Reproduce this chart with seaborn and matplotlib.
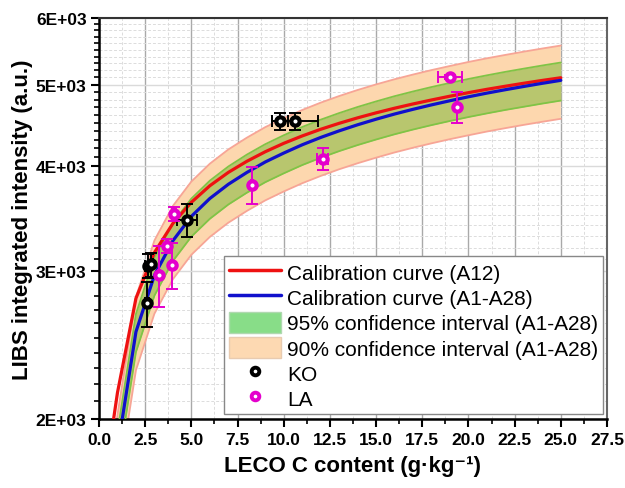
import numpy as np
import pandas as pd
import matplotlib
matplotlib.use("Agg")
import matplotlib.pyplot as plt
import seaborn as sns
from matplotlib.ticker import FixedLocator, FuncFormatter, MultipleLocator, NullFormatter
from matplotlib.lines import Line2D
from matplotlib.patches import Patch

# ---------------- data ----------------
curve_x = [0.5, 1, 2, 3, 4, 5, 6, 7, 8, 9, 10, 11, 12, 13, 14, 15, 16, 17, 18, 19, 20,
           21, 22, 23, 24, 25]
cal_a12 = [1810, 2150, 2784, 3156, 3418, 3622, 3790, 3931, 4052, 4160, 4257, 4344, 4424,
           4497, 4565, 4628, 4687, 4742, 4794, 4844, 4891, 4936, 4978, 5019, 5058, 5095]
cal_a1_a28 = [1500, 1840, 2540, 2965, 3260, 3485, 3660, 3805, 3930, 4045, 4145, 4240, 4326,
              4405, 4479, 4548, 4613, 4673, 4730, 4784, 4836, 4885, 4931, 4975, 5018, 5059]
ci95_hi = [1575, 1932, 2667, 3113, 3423, 3659, 3843, 3995, 4127, 4247, 4352, 4452, 4542,
           4625, 4703, 4775, 4844, 4907, 4967, 5023, 5078, 5129, 5178, 5224, 5269, 5312]
ci95_lo = [1419, 1741, 2403, 2805, 3084, 3297, 3462, 3600, 3718, 3827, 3921, 4011, 4092,
           4167, 4237, 4302, 4364, 4421, 4475, 4526, 4575, 4621, 4665, 4706, 4747, 4786]
ci90_hi = [1650, 2024, 2794, 3262, 3586, 3834, 4026, 4186, 4323, 4450, 4560, 4664, 4759,
           4846, 4927, 5003, 5074, 5140, 5203, 5262, 5320, 5374, 5424, 5473, 5520, 5565]
ci90_lo = [1350, 1656, 2286, 2669, 2934, 3137, 3294, 3425, 3537, 3641, 3731, 3816, 3893,
           3965, 4031, 4093, 4152, 4206, 4257, 4306, 4352, 4397, 4438, 4478, 4516, 4553]

ko_x = [2.6, 2.65, 2.8, 4.75, 9.8, 10.6]
ko_y = [2745, 3040, 3055, 3450, 4520, 4520]
ko_yerr = [170, 100, 100, 155, 100, 100]
ko_xerr = [0.1, 0.15, 0.15, 0.55, 0.45, 1.25]

la_x = [3.25, 3.7, 3.95, 4.05, 8.3, 12.1, 19.0, 19.4]
la_y = [2967, 3215, 3050, 3510, 3800, 4077, 5110, 4700]
la_yerr = [250, 60, 190, 70, 190, 125, 30, 200]
la_xerr = [0.05, 0.05, 0.05, 0.1, 0.05, 0.3, 0.65, 0.05]

legend_labels = ["Calibration curve (A12)", "Calibration curve (A1-A28)",
                 "95% confidence interval (A1-A28)", "90% confidence interval (A1-A28)",
                 "KO", "LA"]
y_major = [2000, 3000, 4000, 5000, 6000]

# ---------------- styling ----------------
RED = "#ee1111"
BLUE = "#1010cc"
ORANGE_FILL = "#fdd7ae"
ORANGE_EDGE = "#f7a596"
OLIVE_FILL = "#b8c66e"
GREEN_EDGE = "#80c446"
MAGENTA = "#e400cc"

sns.set_style("white")
plt.rcParams["font.family"] = ["Liberation Sans", "DejaVu Sans"]
plt.rcParams["text.color"] = "black"
plt.rcParams["axes.labelcolor"] = "black"
plt.rcParams["xtick.color"] = "black"
plt.rcParams["ytick.color"] = "black"

fig = plt.figure(figsize=(6.25, 4.89), dpi=100)
ax = fig.add_axes([0.1584, 0.141, 0.8128, 0.820])
ax.set_yscale("log")

# bands
ax.fill_between(curve_x, ci90_lo, ci90_hi, color=ORANGE_FILL, lw=0, zorder=1)
ax.fill_between(curve_x, ci95_lo, ci95_hi, color=OLIVE_FILL, lw=0, zorder=2)
for arr in (ci90_lo, ci90_hi):
    sns.lineplot(x=curve_x, y=arr, color=ORANGE_EDGE, lw=1.3, ax=ax, zorder=2.5)
for arr in (ci95_lo, ci95_hi):
    sns.lineplot(x=curve_x, y=arr, color=GREEN_EDGE, lw=1.3, ax=ax, zorder=2.6)

# calibration curves
sns.lineplot(x=curve_x, y=cal_a12, color=RED, lw=2.3, ax=ax, zorder=3)
sns.lineplot(x=curve_x, y=cal_a1_a28, color=BLUE, lw=2.3, ax=ax, zorder=3.1)

# data points with error bars
ax.errorbar(ko_x, ko_y, yerr=ko_yerr, xerr=ko_xerr, fmt="none", ecolor="black",
            elinewidth=1.4, capsize=4, capthick=1.4, zorder=5)
ax.errorbar(la_x, la_y, yerr=la_yerr, xerr=la_xerr, fmt="none", ecolor=MAGENTA,
            elinewidth=1.4, capsize=4, capthick=1.4, zorder=5)
sns.scatterplot(x=ko_x, y=ko_y, marker="o", s=36, facecolor="white", edgecolor="black",
                linewidth=3.0, ax=ax, zorder=6)
sns.scatterplot(x=la_x, y=la_y, marker="o", s=36, facecolor="white", edgecolor=MAGENTA,
                linewidth=3.0, ax=ax, zorder=6)

# axes
ax.set_xlim(0, 27.5)
ax.set_ylim(2000, 6000)
ax.xaxis.set_major_locator(MultipleLocator(2.5))
ax.xaxis.set_minor_locator(MultipleLocator(1.25))
ax.xaxis.set_major_formatter(FuncFormatter(lambda v, p: f"{v:.1f}"))
ax.yaxis.set_major_locator(FixedLocator(y_major))
ax.yaxis.set_minor_locator(FixedLocator([v for v in range(2100, 6000, 100) if v % 1000]))
ax.yaxis.set_major_formatter(FuncFormatter(lambda v, p: f"{int(round(v / 1000))}E+03"))
ax.yaxis.set_minor_formatter(NullFormatter())

ax.tick_params(axis="both", which="major", direction="out", length=6, width=1.5,
               labelsize=12.5, left=True, bottom=True, top=False, right=False, pad=3,
               colors="black")
ax.tick_params(axis="both", which="minor", direction="out", length=3.5, width=1.2,
               left=True, bottom=True, top=False, right=False, colors="black")
for lab in ax.get_xticklabels() + ax.get_yticklabels():
    lab.set_fontweight("bold")

ax.set_axisbelow(True)
ax.grid(which="major", axis="x", color="#a9a9a9", lw=1.0, ls="-")
ax.grid(which="major", axis="y", color="#dadada", lw=1.0, ls="-")
ax.grid(which="minor", axis="both", color="#dcdcdc", lw=0.7, ls=(0, (3, 2)))

for s in ("left", "bottom"):
    ax.spines[s].set_color("black")
    ax.spines[s].set_linewidth(1.8)
ax.spines["top"].set_color("#333333")
ax.spines["top"].set_linewidth(1.5)
ax.spines["right"].set_color("#666666")
ax.spines["right"].set_linewidth(1.5)

ax.set_xlabel("LECO C content (g·kg⁻¹)", fontsize=16, fontweight="bold", labelpad=6,
              color="black")
ax.set_ylabel("LIBS integrated intensity (a.u.)", fontsize=16, fontweight="bold", labelpad=2,
              color="black")

handles = [
    Line2D([], [], color=RED, lw=2.5),
    Line2D([], [], color=BLUE, lw=2.5),
    Patch(facecolor="#88dd88", edgecolor="#b0d8b0"),
    Patch(facecolor="#fdd9b2", edgecolor="#e8cbb0"),
    Line2D([], [], ls="none", marker="o", ms=5.5, mew=2.8, mfc="white", mec="black"),
    Line2D([], [], ls="none", marker="o", ms=5.5, mew=2.8, mfc="white", mec=MAGENTA),
]
leg = ax.legend(handles, legend_labels, loc="lower right", bbox_to_anchor=(0.993, 0.012),
                borderaxespad=0, fontsize=15, frameon=True, fancybox=False,
                edgecolor="#888888", framealpha=1, handlelength=2.5, handleheight=1.2,
                handletextpad=0.3, labelspacing=0.17, borderpad=0.25)
leg.get_frame().set_linewidth(1.0)
leg.set_zorder(10)
for t in leg.get_texts():
    t.set_color("black")

fig.savefig("out.png", dpi=100)
